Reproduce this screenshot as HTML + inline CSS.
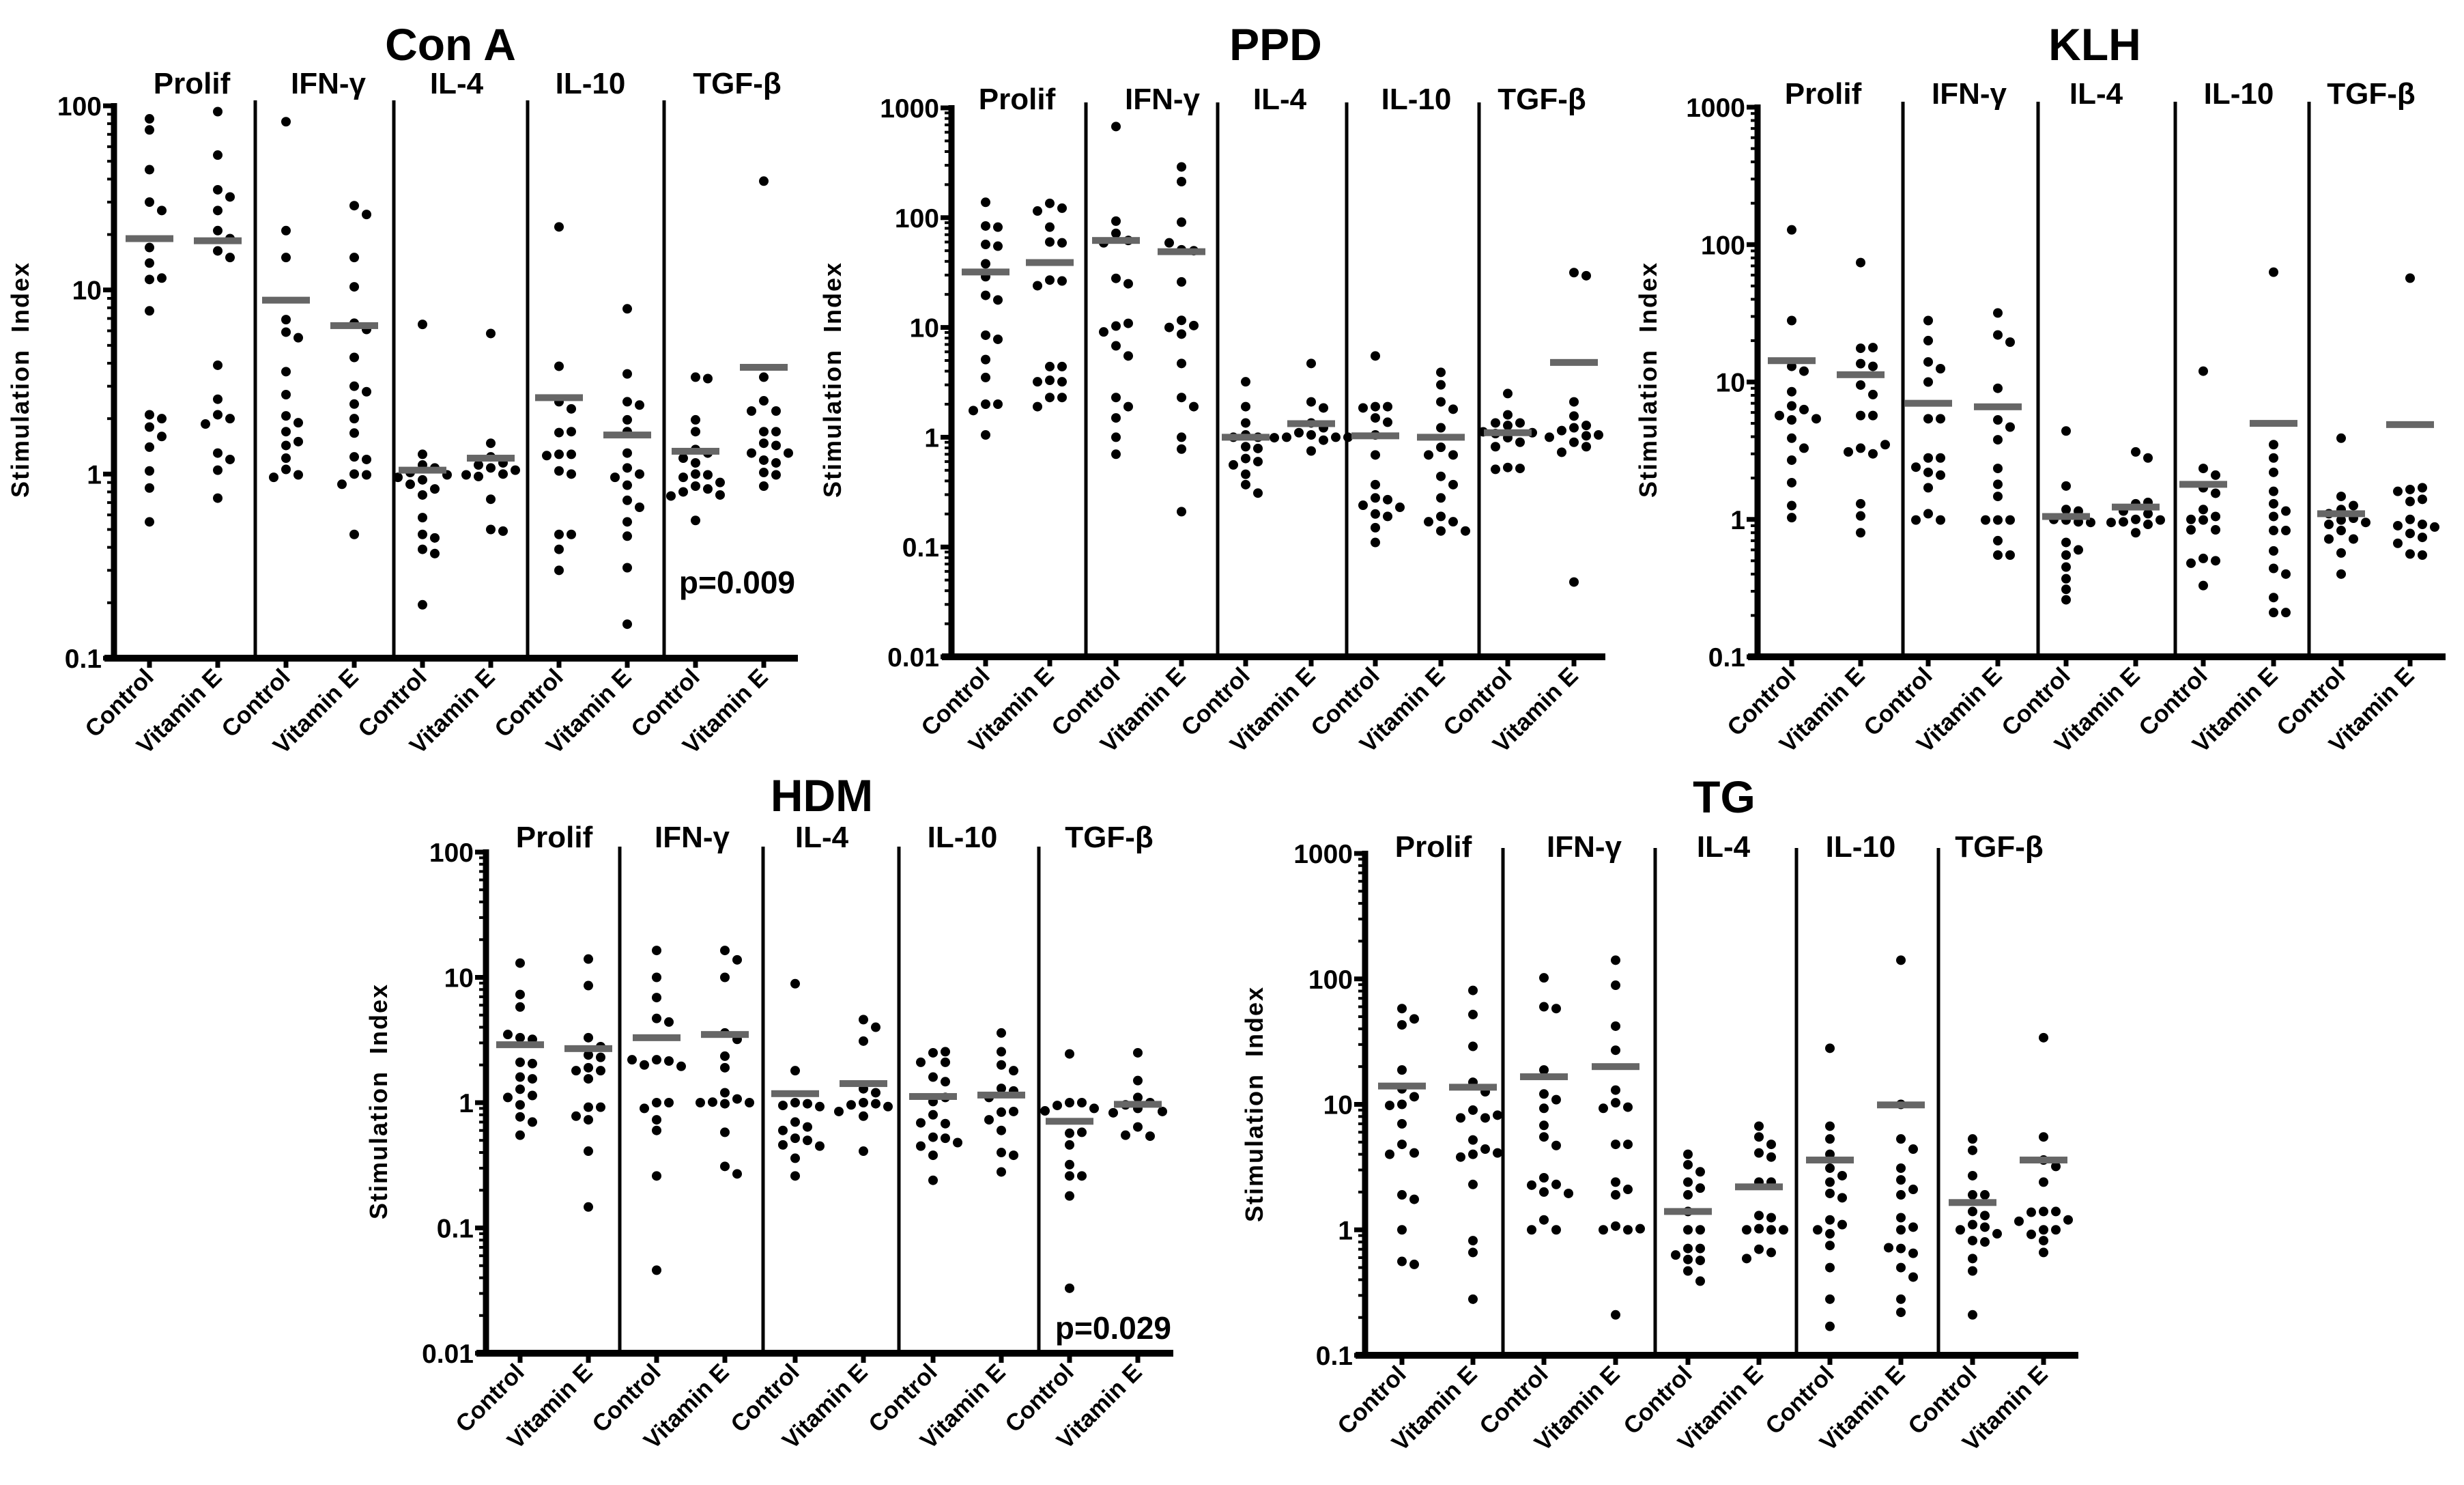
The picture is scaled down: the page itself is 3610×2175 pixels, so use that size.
<!DOCTYPE html>
<html><head><meta charset="utf-8">
<style>
html,body{margin:0;padding:0;background:#fff;}
svg{display:block;}
text{font-family:"Liberation Sans Narrow","Liberation Sans",Arial,sans-serif;font-weight:bold;fill:#000;}
</style></head>
<body>
<svg id="fig" xmlns="http://www.w3.org/2000/svg" width="3610" height="2175" viewBox="0 0 3610 2175"></svg>
<script>
// ---- shared categories ----
const groupLabels = ["Prolif", "IFN-\u03b3", "IL-4", "IL-10", "TGF-\u03b2"];
const treatmentLabels = ["Control", "Vitamin E"];

// ---- Con A ----
const conaTicks = ["0.1", "1", "10", "100"];
const conaControl = [
 [85,74,45,30,27,17,14,11.4,11.6,7.7,2.1,2.0,1.8,1.6,1.4,1.04,0.84,0.55],
 [82,21,15,6.9,5.9,5.5,3.6,2.7,2.07,1.9,1.7,1.5,1.43,1.22,1.06,0.99,0.96],
 [6.5,1.28,1.12,1.08,1.02,0.99,0.93,0.83,0.77,0.58,0.47,0.45,0.39,0.37,0.195,0.96,0.88],
 [22,3.85,2.47,2.26,1.68,1.7,1.28,1.28,1.26,1.04,1.0,0.47,0.47,0.39,0.3],
 [3.36,3.3,1.97,1.7,1.36,1.3,1.22,1.15,1.0,0.99,0.96,0.9,0.86,0.83,0.8,0.77,0.76,0.56]];
const conaVitE = [
 [93,54,35,32,27,21,19,16.3,15,3.9,2.55,2.1,2.0,1.87,1.3,1.2,1.05,0.74],
 [28.7,25.7,15,10.4,6.6,6.1,4.3,3.0,2.8,2.4,2.0,1.67,1.24,1.2,1.0,0.99,0.88,0.47],
 [5.8,1.47,1.24,1.15,1.12,1.08,1.05,1.0,0.99,0.97,0.73,0.5,0.49],
 [7.9,3.5,2.47,2.37,1.97,1.7,1.3,1.08,1.0,0.96,0.87,0.72,0.66,0.55,0.46,0.31,0.153],
 [39,3.36,2.5,2.2,2.2,1.7,1.7,1.47,1.43,1.3,1.3,1.19,1.15,1.02,0.99,0.86]];
const conaMeanControl = [19, 8.8, 1.05, 2.6, 1.33];
const conaMeanVitE = [18.5, 6.4, 1.22, 1.63, 3.8];

// ---- PPD ----
const ppdTicks = ["0.01", "0.1", "1", "10", "100", "1000"];
const ppdControl = [
 [138,84,82,57,55,38,29,19.6,17.8,8.5,7.8,5.1,3.5,2.0,2.0,1.75,1.05],
 [676,93,72,62,59,28,25,10.3,10.9,9.1,6.8,5.5,2.3,1.9,1.5,1.0,0.7],
 [3.2,1.9,1.35,1.05,1.0,1.0,0.82,0.79,0.64,0.6,0.56,0.46,0.37,0.31],
 [5.5,1.9,1.9,1.85,1.5,1.37,1.05,0.69,0.37,0.28,0.27,0.24,0.23,0.2,0.19,0.15,0.11],
 [2.5,1.6,1.35,1.35,1.28,1.1,0.99,0.9,0.82,0.53,0.52,0.51,1.12,1.08]];
const ppdVitE = [
 [135,122,115,82,60,59,27,26.5,24,4.4,4.4,3.3,3.2,3.2,2.3,2.3,1.9],
 [290,213,91,51,50,59,26,11.6,10.4,10.0,8.7,4.7,2.3,1.9,1.0,0.78,0.21],
 [4.7,2.1,1.85,1.35,1.22,1.1,1.05,1.0,1.0,1.0,0.99,0.94,0.75],
 [3.9,3.0,2.1,1.8,1.22,0.81,0.69,0.69,0.44,0.37,0.28,0.19,0.17,0.17,0.14,0.14],
 [31.6,29.6,2.1,1.56,1.28,1.22,1.15,1.05,1.03,1.0,0.9,0.82,0.73,0.048]];
const ppdMeanControl = [32, 62, 1.0, 1.03, 1.1];
const ppdMeanVitE = [39, 49, 1.33, 1.0, 4.8];

// ---- KLH ----
const klhTicks = ["0.1", "1", "10", "100", "1000"];
const klhControl = [
 [128,28,13,12,8.5,6.7,6.3,5.7,5.3,5.4,3.9,3.3,2.7,1.85,1.26,1.03],
 [28,20,14,12.5,10,5.4,5.4,2.8,2.8,2.4,2.2,2.1,1.7,1.1,0.99,0.99],
 [4.4,1.75,1.18,1.15,1.0,0.99,0.96,0.95,0.68,0.6,0.55,0.45,0.37,0.31,0.26],
 [12,2.35,2.1,1.7,1.55,1.18,1.05,0.99,1.0,0.84,0.84,0.52,0.5,0.48,0.33],
 [3.9,1.47,1.18,1.26,1.1,1.02,0.99,0.95,0.92,0.83,0.72,0.72,0.57,0.4]];
const klhVitE = [
 [74,17.6,17.8,13.6,13,9.5,8.1,5.7,5.7,3.3,3.0,3.1,3.5,1.3,1.06,0.8],
 [31.8,22,19.5,9,5.3,4.7,3.8,2.35,1.8,1.47,0.99,0.99,0.99,0.7,0.55,0.55],
 [3.1,2.8,1.3,1.33,1.15,1.1,1.0,0.99,0.96,0.95,0.92,0.8],
 [63,3.5,2.8,2.2,1.6,1.3,1.15,1.05,0.83,0.83,0.59,0.44,0.4,0.27,0.21,0.21],
 [57,1.65,1.7,1.6,1.4,1.35,1.0,0.92,0.9,0.88,0.79,0.74,0.67,0.56,0.55]];
const klhMeanControl = [14.3, 7.0, 1.05, 1.8, 1.1];
const klhMeanVitE = [11.3, 6.6, 1.23, 5.0, 4.9];

// ---- HDM ----
const hdmTicks = ["0.01", "0.1", "1", "10", "100"];
const hdmControl = [
 [13,7.3,5.8,3.3,3.2,3.5,2.1,2.05,1.6,1.55,1.28,1.14,1.1,0.96,0.77,0.7,0.55],
 [16.4,10,6.9,4.7,4.4,2.2,2.15,2.0,1.95,1.0,1.0,0.9,0.73,0.6,0.26,0.046,2.2],
 [8.9,1.8,1.0,0.98,0.95,0.7,0.64,0.6,0.52,0.5,0.46,0.45,0.36,0.26,0.93],
 [2.5,2.55,2.1,2.1,1.6,1.47,1.02,1.1,0.8,0.68,0.69,0.53,0.52,0.45,0.38,0.48,0.24],
 [2.45,1.0,1.0,0.95,0.9,0.86,0.57,0.58,0.46,0.32,0.26,0.26,0.18,0.033]];
const hdmVitE = [
 [14,8.6,3.3,2.8,2.4,2.3,1.9,1.8,1.8,1.55,0.92,0.92,0.78,0.73,0.41,0.147],
 [16.4,13.8,10,3.6,3.2,2.35,1.9,1.2,1.07,1.01,1.0,1.0,0.98,0.58,0.31,0.27],
 [4.6,4.0,3.1,1.29,1.2,1.0,0.98,0.96,0.93,0.85,0.78,0.41],
 [3.6,2.55,2.0,1.8,1.3,1.24,1.1,0.84,0.85,0.73,0.6,0.4,0.38,0.28],
 [2.5,1.5,1.1,1.0,0.96,0.9,0.85,0.83,0.64,0.54,0.55]];
const hdmMeanControl = [2.9, 3.3, 1.18, 1.12, 0.71];
const hdmMeanVitE = [2.7, 3.5, 1.42, 1.15, 0.97];

// ---- TG ----
const tgTicks = ["0.1", "1", "10", "100", "1000"];
const tgControl = [
 [58,43,48,18.8,13.3,11.5,10,9.8,7.0,4.8,4.1,4.0,1.9,1.75,1.0,0.56,0.53],
 [102,60,58,18.8,12.1,10.9,9.3,6.8,5.5,4.7,2.6,2.3,2.27,2.0,1.95,1.2,1.0,1.0],
 [4.0,3.3,2.9,2.4,2.15,1.9,1.4,1.0,1.0,0.71,0.71,0.63,0.58,0.57,0.47,0.39],
 [28,6.7,5.3,4.0,3.1,2.7,2.4,1.95,1.8,1.2,1.1,1.0,0.93,0.75,0.5,0.28,0.17],
 [5.3,4.3,2.7,1.9,1.9,1.4,1.3,1.1,1.05,1.0,0.93,0.82,0.8,0.59,0.47,0.21]];
const tgVitE = [
 [81,52,29,15,12.6,9,7.8,7.8,8.2,5.2,4.4,4.0,3.8,4.1,2.3,0.82,0.66,0.28],
 [141,89,42,27,13,10.3,9.5,9.3,4.8,4.8,2.4,2.1,1.9,1.07,1.0,1.0,1.02,0.21],
 [6.7,5.5,4.8,4.1,3.8,2.4,2.4,1.3,1.25,1.02,1.0,1.0,1.0,0.7,0.66,0.59],
 [141,10,5.3,4.4,3.1,2.5,2.1,1.9,1.25,1.0,1.05,0.71,0.65,0.72,0.5,0.42,0.28,0.22],
 [34,5.5,3.6,3.2,2.4,1.4,1.4,1.38,1.2,1.17,1.0,1.0,0.92,0.82,0.66]];
const tgMeanControl = [14, 16.6, 1.4, 3.6, 1.65];
const tgMeanVitE = [13.7, 20, 2.2, 9.9, 3.6];

// ---- layout (geometry only) ----
const panels = [
 {id:"con-a", title:"Con A", titleX:660, titleY:88, ticks:conaTicks, ctrl:conaControl, vit:conaVitE, mc:conaMeanControl, mv:conaMeanVitE,
  axisX:167, yTop:155, yBot:964, xEnd:1169, dividers:[374,577,773,973], cx:[219,419,619,819,1019], vx:[319,519,719,919,1119],
  subX:[281,481,669,865,1080], subY:137, ytX:42, ytY:556, p:"p=0.009", pX:1165, pY:869},
 {id:"ppd", title:"PPD", titleX:1869, titleY:88, ticks:ppdTicks, ctrl:ppdControl, vit:ppdVitE, mc:ppdMeanControl, mv:ppdMeanVitE,
  axisX:1394, yTop:158, yBot:962, xEnd:2352, dividers:[1591,1784,1973,2167], cx:[1444,1635,1825,2015,2209], vx:[1538,1731,1921,2111,2306],
  subX:[1490,1703,1875,2075,2259], subY:160, ytX:1232, ytY:556},
 {id:"klh", title:"KLH", titleX:3069, titleY:88, ticks:klhTicks, ctrl:klhControl, vit:klhVitE, mc:klhMeanControl, mv:klhMeanVitE,
  axisX:2575, yTop:157, yBot:962, xEnd:3583, dividers:[2788,2986,3187,3383], cx:[2625,2825,3027,3228,3430], vx:[2726,2927,3129,3331,3531],
  subX:[2671,2885,3071,3280,3474], subY:152, ytX:2427, ytY:556},
 {id:"hdm", title:"HDM", titleX:1204, titleY:1188, ticks:hdmTicks, ctrl:hdmControl, vit:hdmVitE, mc:hdmMeanControl, mv:hdmMeanVitE,
  axisX:712, yTop:1248, yBot:1982, xEnd:1719, dividers:[908,1118,1317,1522], cx:[762,962,1165,1367,1567], vx:[862,1062,1265,1467,1667],
  subX:[812,1014,1204,1410,1625], subY:1241, ytX:567, ytY:1613, p:"p=0.029", pX:1716, pY:1961},
 {id:"tg", title:"TG", titleX:2526, titleY:1190, ticks:tgTicks, ctrl:tgControl, vit:tgVitE, mc:tgMeanControl, mv:tgMeanVitE,
  axisX:2000, yTop:1250, yBot:1985, xEnd:3045, dividers:[2202,2425,2632,2840], cx:[2054,2262,2473,2681,2890], vx:[2158,2367,2577,2785,2994],
  subX:[2100,2321,2525,2726,2929], subY:1255, ytX:1850, ytY:1617}
];

const NS = "http://www.w3.org/2000/svg";
const svg = document.getElementById("fig");
function mk(tag, attrs, parent){
  const e = document.createElementNS(NS, tag);
  for (const k in attrs) e.setAttribute(k, attrs[k]);
  (parent||svg).appendChild(e);
  return e;
}
function txt(str, attrs, parent){ const t = mk("text", attrs, parent); t.textContent = str; return t; }

panels.forEach(P => {
  const g = mk("g", {});
  
  
  const lo = Math.log10(parseFloat(P.ticks[0]));
  const hi = Math.log10(parseFloat(P.ticks[P.ticks.length-1]));
  const yScale = v => P.yBot - (Math.log10(v) - lo) / (hi - lo) * (P.yBot - P.yTop);

  const t = txt(P.title, {x:P.titleX, y:P.titleY, "text-anchor":"middle", "font-size":66}, g);
  
  

  groupLabels.forEach((lab, i) => {
    const s = txt(lab, {x:P.subX[i], y:P.subY, "text-anchor":"middle", "font-size":44}, g);
    
    
  });

  const yt = txt("Stimulation\u00a0\u00a0Index", {x:P.ytX, y:P.ytY, "text-anchor":"middle", "font-size":36, "letter-spacing":2, transform:`rotate(-90 ${P.ytX} ${P.ytY})`, style:"font-family:'Liberation Sans',sans-serif"}, g);
  
  

  for (let d = Math.round(lo); d < Math.round(hi); d++) {
    for (let m = 2; m <= 9; m++) {
      const y = yScale(m * Math.pow(10, d));
      const mt = mk("line", {x1:P.axisX-10, x2:P.axisX, y1:y, y2:y, stroke:"#000", "stroke-width":4}, g);
      
      
    }
  }
  P.ticks.forEach(lab => {
    const y = yScale(parseFloat(lab));
    const tk = mk("line", {x1:P.axisX-16, x2:P.axisX, y1:y, y2:y, stroke:"#000", "stroke-width":7}, g);
    
    
    const tl = txt(lab, {x:P.axisX-18, y:y+14, "text-anchor":"end", "font-size":39}, g);
    
    
  });

  P.dividers.forEach(x => {
    const dv = mk("line", {x1:x, x2:x, y1:P.yTop-8, y2:P.yBot, stroke:"#000", "stroke-width":5}, g);
    
    
  });

  const ya = mk("line", {x1:P.axisX, x2:P.axisX, y1:P.yTop-4, y2:P.yBot+5, stroke:"#000", "stroke-width":9}, g);
  
  
  const xa = mk("line", {x1:P.axisX-14, x2:P.xEnd, y1:P.yBot, y2:P.yBot, stroke:"#000", "stroke-width":10}, g);
  
  

  for (let i = 0; i < 5; i++) {
    [[P.cx[i], treatmentLabels[0]], [P.vx[i], treatmentLabels[1]]].forEach(([x, lab]) => {
      const xt = mk("line", {x1:x, x2:x, y1:P.yBot, y2:P.yBot+14, stroke:"#000", "stroke-width":7}, g);
      
      
      const lx = x + 8, ly = P.yBot + 30;
      const xl = txt(lab, {x:lx, y:ly, "text-anchor":"end", "font-size":35, transform:`rotate(-45 ${lx} ${ly})`, style:"font-family:'Liberation Sans',sans-serif"}, g);
      
      
    });
  }

  function drawSeries(vals, cx, name) {
    const placed = [];
    const r = 7, step = 18;
    vals.forEach(v => {
      const y = yScale(v);
      const offs = [0, step, -step, 2*step, -2*step, 3*step, -3*step];
      let ox = 0;
      for (const o of offs) {
        if (!placed.some(p => Math.hypot(p[0]-o, p[1]-y) < 2*r+1)) { ox = o; break; }
      }
      placed.push([ox, y]);
      const c = mk("circle", {cx:cx+ox, cy:y, r:r, fill:"#000"}, g);
      
      
    });
  }
  for (let i = 0; i < 5; i++) {
    drawSeries(P.ctrl[i], P.cx[i], 'control-point');
    drawSeries(P.vit[i], P.vx[i], 'vitamin-e-point');
    const m1 = mk("rect", {x:P.cx[i]-35, y:yScale(P.mc[i])-5, width:70, height:10, fill:"#666"}, g);
    
    
    const m2 = mk("rect", {x:P.vx[i]-35, y:yScale(P.mv[i])-5, width:70, height:10, fill:"#666"}, g);
    
    
  }

  if (P.p) {
    const pt = txt(P.p, {x:P.pX, y:P.pY, "text-anchor":"end", "font-size":46}, g);
    
    
  }
});
</script>
</body></html>
